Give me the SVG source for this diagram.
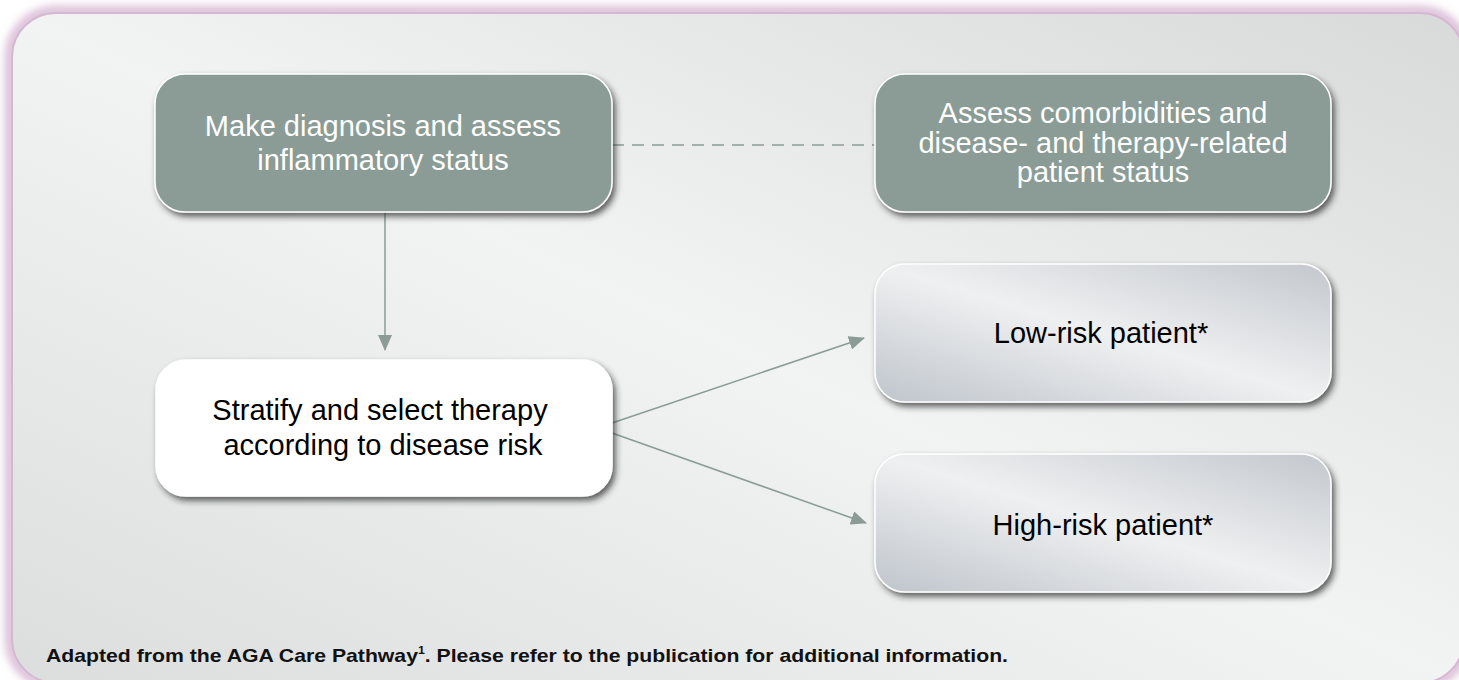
<svg xmlns="http://www.w3.org/2000/svg" width="1459" height="680" viewBox="0 0 1459 680">
  <style>
    .t { font-family: "Liberation Sans", Arial, Helvetica, sans-serif; font-size: 29px; text-anchor: middle; }
    .w { fill: #ffffff; }
    .k { fill: #000000; }
    .g { fill: #8a9c95; stroke: #ffffff; stroke-width: 1.5; }
    .conn { stroke: #8a9c95; stroke-width: 1.5; fill: none; }
  </style>
  <defs>
    <linearGradient id="panelGrad" x1="0" y1="1" x2="1" y2="0">
      <stop offset="0" stop-color="#dcdddd"/>
      <stop offset="0.5" stop-color="#f2f3f3"/>
      <stop offset="1" stop-color="#d8dada"/>
    </linearGradient>
    <linearGradient id="metal" x1="0" y1="1" x2="1" y2="0">
      <stop offset="0" stop-color="#bfc5cc"/>
      <stop offset="0.5" stop-color="#eff0f1"/>
      <stop offset="1" stop-color="#c3c8ce"/>
    </linearGradient>
    <filter id="glow" x="-5%" y="-5%" width="110%" height="110%">
      <feGaussianBlur stdDeviation="5"/>
    </filter>
    <filter id="shadow" x="-10%" y="-10%" width="125%" height="130%">
      <feDropShadow dx="3" dy="4" stdDeviation="3" flood-color="#222222" flood-opacity="0.7"/>
    </filter>
    <marker id="arrow" viewBox="0 0 16 14" refX="15" refY="7" markerWidth="16" markerHeight="14" markerUnits="userSpaceOnUse" orient="auto">
      <path d="M0,0 L16,7 L0,14 Z" fill="#8a9c95"/>
    </marker>
  </defs>

  <rect width="1459" height="680" fill="#ffffff"/>
  <g id="panel">
    <rect x="10" y="11" width="1456" height="674" rx="46" fill="none" stroke="#cfa9ca" stroke-width="8" filter="url(#glow)"/>
    <rect x="12" y="13" width="1452" height="670" rx="44" fill="url(#panelGrad)" stroke="#d6b7d2" stroke-width="2"/>
  </g>

  <g id="connectors">
    <line class="conn" x1="612" y1="145" x2="875" y2="145" stroke-dasharray="12 8"/>
    <line class="conn" x1="385" y1="212" x2="385" y2="350" marker-end="url(#arrow)"/>
    <line class="conn" x1="612" y1="423" x2="864" y2="338" marker-end="url(#arrow)"/>
    <line class="conn" x1="612" y1="433" x2="866" y2="523" marker-end="url(#arrow)"/>
  </g>

  <g id="node-diagnosis">
    <rect class="g" x="155" y="74" width="457" height="138" rx="30" filter="url(#shadow)"/>
    <text class="t w" x="383" y="136">Make diagnosis and assess</text>
    <text class="t w" x="383" y="170">inflammatory status</text>
  </g>

  <g id="node-comorbidities">
    <rect class="g" x="875" y="74" width="456" height="138" rx="30" filter="url(#shadow)"/>
    <text class="t w" x="1103" y="123">Assess comorbidities and</text>
    <text class="t w" x="1103" y="153">disease- and therapy-related</text>
    <text class="t w" x="1103" y="182">patient status</text>
  </g>

  <g id="node-stratify">
    <rect x="156" y="360" width="456" height="136" rx="30" fill="#ffffff" stroke="#ffffff" stroke-width="1.5" filter="url(#shadow)"/>
    <text class="t k" x="380" y="420">Stratify and select therapy</text>
    <text class="t k" x="383" y="455">according to disease risk</text>
  </g>

  <g id="node-low">
    <rect x="875" y="264" width="456" height="138" rx="30" fill="url(#metal)" stroke="#ffffff" stroke-width="1.5" filter="url(#shadow)"/>
    <text class="t k" x="1101" y="343">Low-risk patient*</text>
  </g>

  <g id="node-high">
    <rect x="875" y="454" width="456" height="138" rx="30" fill="url(#metal)" stroke="#ffffff" stroke-width="1.5" filter="url(#shadow)"/>
    <text class="t k" x="1103" y="535">High-risk patient*</text>
  </g>

  <text x="46" y="662" font-family="'Liberation Sans', Arial, sans-serif" font-size="19" font-weight="bold" fill="#111111" textLength="962" lengthAdjust="spacingAndGlyphs">Adapted from the AGA Care Pathway<tspan font-size="11" dy="-8">1</tspan><tspan dy="8">. Please refer to the publication for additional information.</tspan></text>
</svg>
